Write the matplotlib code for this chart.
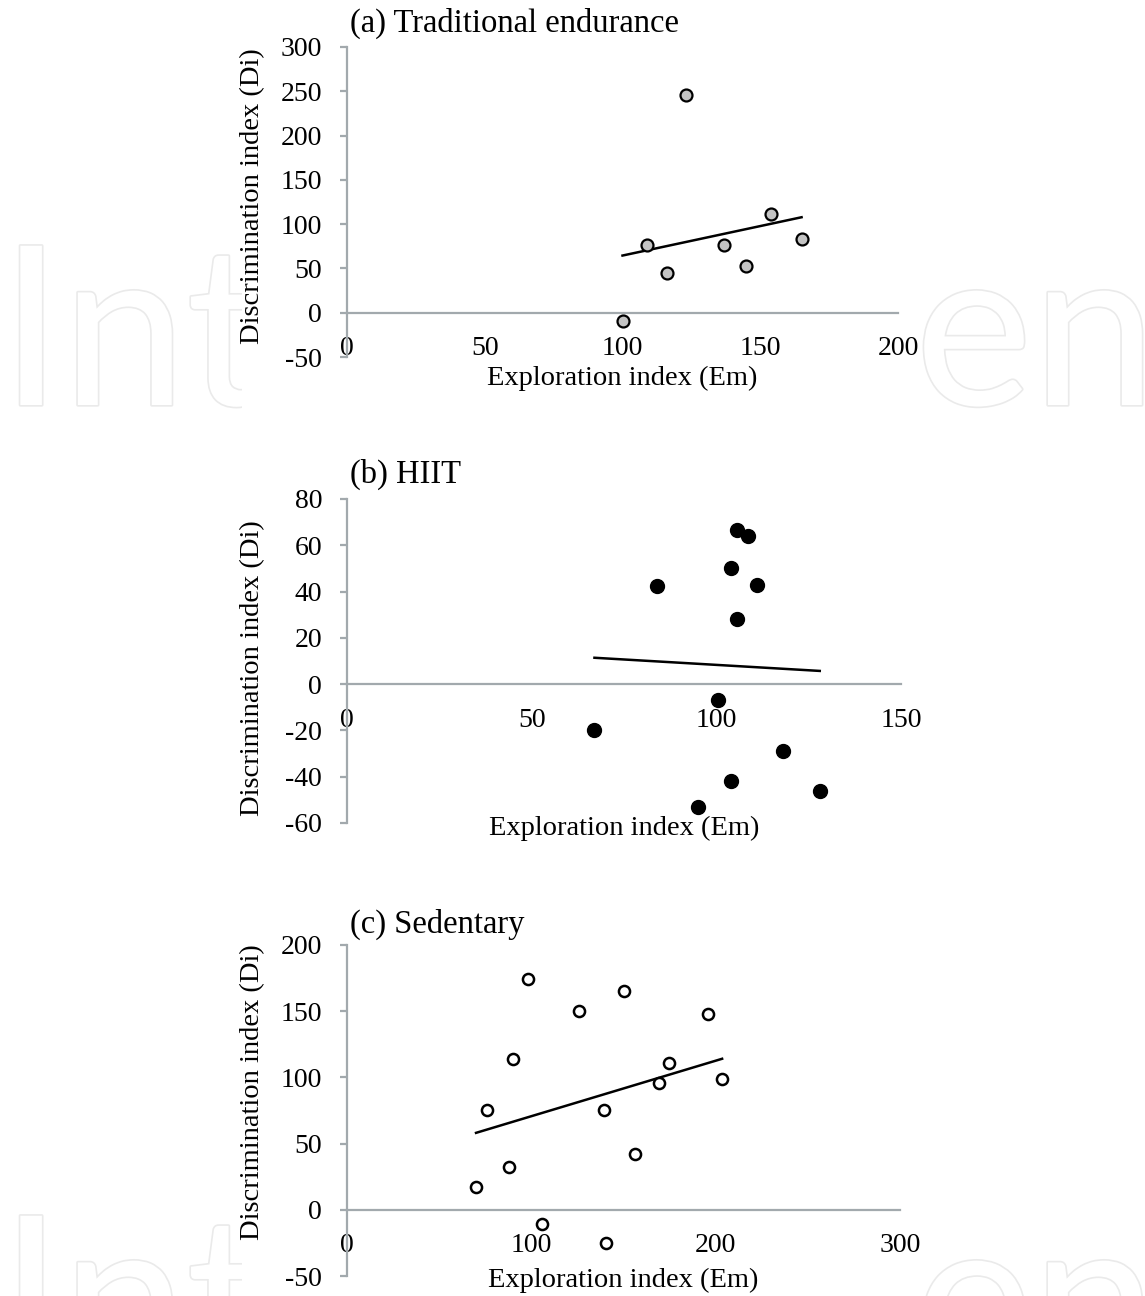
import numpy as np
import matplotlib
matplotlib.use("Agg")
import matplotlib.pyplot as plt
import matplotlib.patheffects as pe
from matplotlib.patches import Rectangle

# ---------------- data ----------------
# (a) Traditional endurance
a_em = [100, 109, 116, 123, 137, 145, 154, 165]
a_di = [-9, 77, 45, 246, 76, 53, 111, 83]
# (b) HIIT
b_em = [67, 84, 95, 100.5, 104, 104, 105.5, 105.5, 108.5, 111, 118, 128]
b_di = [-20, 42.5, -53, -7, 50, -42, 66.5, 28, 64, 43, -29, -46]
# (c) Sedentary
c_em = [70, 76, 88, 90, 98, 106, 126, 139.5, 140.5, 150, 156, 169.5, 174.5, 196, 203.5]
c_di = [17, 75.5, 32, 114, 174, -11, 150, 75.5, -25, 165, 42, 96, 111, 148, 99]

titles = ["(a) Traditional endurance", "(b) HIIT", "(c) Sedentary"]
xlabel = "Exploration index (Em)"
ylabel = "Discrimination index (Di)"

a_xticks = [0, 50, 100, 150, 200]
a_yticks = [-50, 0, 50, 100, 150, 200, 250, 300]
b_xticks = [0, 50, 100, 150]
b_yticks = [-60, -40, -20, 0, 20, 40, 60, 80]
c_xticks = [0, 100, 200, 300]
c_yticks = [-50, 0, 50, 100, 150, 200]

# ---------------- style ----------------
plt.rcParams['font.family'] = ['Liberation Serif', 'DejaVu Serif']
plt.rcParams['axes.unicode_minus'] = False

W, H = 1145, 1296
fig = plt.figure(figsize=(W / 100, H / 100), dpi=100)

GRAY = '#A2A9AD'

# watermark (faint outlined letters, partly covered by the chart area)
wm_pe = [pe.withStroke(linewidth=2.4, foreground='#EAEAEA')]
for base in [405, 1375]:
    fig.text(0 / W, 1 - base / H, "Int", fontsize=160, family='Lato', color='white',
             path_effects=wm_pe, ha='left', va='baseline', zorder=-3)
    fig.text(915 / W, 1 - base / H, "en", fontsize=160, family='Lato', color='white',
             path_effects=wm_pe, ha='left', va='baseline', zorder=-3)
fig.patches.append(Rectangle((242 / W, 0), (915 - 242) / W, 1, transform=fig.transFigure,
                             facecolor='white', edgecolor='none', zorder=-2))


def px_rect(x0, x1, ytop, ybot):
    return [x0 / W, 1 - ybot / H, (x1 - x0) / W, (ybot - ytop) / H]


def panel(rect_px, xs, ys, xticks, yticks, title, mfc, ms, mew, title_off_px,
          xlabel_center_px, ylabel_center_px):
    x0, x1, ytop, ybot = rect_px
    ax = fig.add_axes(px_rect(*rect_px))
    ax.set_facecolor('none')
    xs = np.asarray(xs, float)
    ys = np.asarray(ys, float)
    coef = np.polyfit(xs, ys, 1)
    xx = np.array([xs.min(), xs.max()])
    ax.plot(xx, np.polyval(coef, xx), color='black', lw=1.8, zorder=2)
    ax.plot(xs, ys, linestyle='none', marker='o', ms=ms, mfc=mfc, mec='black',
            mew=mew, zorder=3, clip_on=False)
    ax.set_xlim(xticks[0], xticks[-1])
    ax.set_ylim(yticks[0], yticks[-1])
    ax.set_xticks(xticks)
    ax.set_yticks(yticks)
    for s in ['top', 'right']:
        ax.spines[s].set_visible(False)
    ax.spines['bottom'].set_position(('data', 0))
    for s in ['left', 'bottom']:
        ax.spines[s].set_color(GRAY)
        ax.spines[s].set_linewidth(1.6)
    ax.tick_params(axis='y', direction='out', length=5, width=1.6, color=GRAY,
                   pad=13, labelsize=20)
    ax.tick_params(axis='x', length=0, pad=17, labelsize=20)
    hpx = ybot - ytop
    wpx = x1 - x0
    ax.annotate(title, xy=(0, 1), xycoords='axes fraction',
                xytext=(2, title_off_px * 0.72), textcoords='offset points',
                ha='left', va='center', fontsize=23.5)
    ax.text(0.5, (ybot - xlabel_center_px) / hpx, xlabel, transform=ax.transAxes,
            ha='center', va='center', fontsize=20.5)
    ax.text((253 - x0) / wpx, (ybot - ylabel_center_px) / hpx, ylabel,
            transform=ax.transAxes, rotation=90, ha='center', va='center', fontsize=20.5)
    return ax


panel((347, 898, 47, 357), a_em, a_di, a_xticks, a_yticks, titles[0],
      '#C4C4C4', 8.6, 1.6, 24, 378, 196)
panel((347, 901, 499, 823), b_em, b_di, b_xticks, b_yticks, titles[1],
      'black', 10, 1.0, 25, 828, 668)
panel((347, 900, 945, 1276), c_em, c_di, c_xticks, c_yticks, titles[2],
      'white', 8.0, 1.8, 21, 1280, 1092)

fig.savefig("out.png", dpi=100)
